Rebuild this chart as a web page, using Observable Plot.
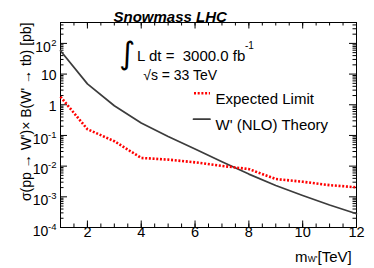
<!DOCTYPE html>
<html>
<head>
<meta charset="utf-8">
<script src="https://cdn.jsdelivr.net/npm/d3@7"></script>
<script src="https://cdn.jsdelivr.net/npm/@observablehq/plot@0.6"></script>
<style>
  html, body { margin: 0; padding: 0; background: #fff; }
  svg { display: block; }
</style>
</head>
<body>
<div id="chart"></div>
<script>
// ---- data ----
const massTeV = [1, 2, 3, 4, 5, 6, 7, 8, 9, 10, 11, 12];
const expectedLimit = [1.83, 0.16, 0.065, 0.0185, 0.0163, 0.0133, 0.0102, 0.0080, 0.0038, 0.0031, 0.0024, 0.00204];
const theoryNLO = [58, 4.8, 0.93, 0.255, 0.093, 0.036, 0.0138, 0.0055, 0.00234, 0.0011, 0.00054, 0.00028];

const xTickLabels = [2, 4, 6, 8, 10, 12];
const yDecades = [1e-4, 1e-3, 1e-2, 1e-1, 1, 10, 100];
const yTickBase = ["10", "10", "10", "10", "1", "10", "10"];
const yTickExp = ["-4", "-3", "-2", "-1", "", "", "2"];

const titleText = "Snowmass LHC";
const lumiText = "L dt =\u00a0 3000.0 fb";
const lumiExp = "-1";
const sqrtsText = "\u221As = 33 TeV";
const legendLabels = ["Expected Limit", "W' (NLO) Theory"];
const yTitle = "\u03C3(pp \u2192 W')\u00D7 B(W' \u2192 tb) [pb]";

// ---- layout ----
const W = 374, H = 268, ML = 60, MR = 18, MT = 22, MB = 41;
const FW = W - ML - MR, FH = H - MT - MB;
const FONT = "'Liberation Sans', Arial, Helvetica, sans-serif";
const yTop = 480;

const rows = massTeV.map((m, i) => ({m, lim: expectedLimit[i], th: theoryNLO[i]}));
const yLabels = yDecades.map((v, i) => ({v, base: yTickBase[i], exp: yTickExp[i]}));

const xMinor = d3.range(1.5, 12, 0.5);
const yMinor = [];
for (const d of yDecades) for (let k = 2; k <= 9; k++) if (d * k <= yTop) yMinor.push(d * k);

// absolute-positioned text helper (baseline in px)
function T(str, x, baseline, fs, opts = {}) {
  return Plot.text([str], {
    text: d => d, frameAnchor: "top-left",
    dx: x - ML, dy: baseline - MT - 0.32 * fs,
    fontSize: fs, textAnchor: "start", fill: "#000", fontFamily: FONT, ...opts
  });
}
const segShape = {draw(ctx, l) { ctx.moveTo(0, 0); ctx.lineTo(0, -l); }};
function seg(x1, x2, y, opts) {
  return Plot.vector([0], {
    frameAnchor: "top-left", dx: x1 - ML, dy: y - MT,
    length: x2 - x1, rotate: 90, anchor: "start", shape: segShape, ...opts
  });
}

const redStyle = {stroke: "#ff0000", strokeWidth: 2.6, strokeDasharray: "2,1.7", strokeLinecap: "butt"};
const grayStyle = {stroke: "#3c3c3c", strokeWidth: 1.7};

const chart = Plot.plot({
  width: W, height: H,
  marginLeft: ML, marginRight: MR, marginTop: MT, marginBottom: MB,
  x: {domain: [1, 12], axis: null},
  y: {type: "log", domain: [1e-4, yTop], axis: null},
  style: {fontFamily: FONT, background: "#fff", overflow: "visible"},
  marks: [
    // ticks (inward, ROOT style)
    Plot.tickX(xMinor, {x: d => d, insetTop: FH - 3.5, stroke: "#000"}),
    Plot.tickX(xTickLabels, {x: d => d, insetTop: FH - 6.5, stroke: "#000"}),
    Plot.tickX(xMinor, {x: d => d, insetBottom: FH - 3.5, stroke: "#000"}),
    Plot.tickX(xTickLabels, {x: d => d, insetBottom: FH - 6.5, stroke: "#000"}),
    Plot.tickY(yMinor, {y: d => d, insetRight: FW - 3.5, stroke: "#000"}),
    Plot.tickY(yDecades, {y: d => d, insetRight: FW - 7, stroke: "#000"}),
    Plot.tickY(yMinor, {y: d => d, insetLeft: FW - 3.5, stroke: "#000"}),
    Plot.tickY(yDecades, {y: d => d, insetLeft: FW - 7, stroke: "#000"}),
    Plot.frame({stroke: "#000", strokeWidth: 1}),

    // data
    Plot.line(rows, {x: "m", y: "th", ...grayStyle}),
    Plot.line(rows, {x: "m", y: "lim", ...redStyle}),

    // x tick labels
    Plot.text(xTickLabels, {x: d => d, text: d => String(d), frameAnchor: "bottom", dy: 9.5, fontSize: 14.5, fill: "#000"}),
    // y tick labels
    Plot.text(yLabels.filter(d => d.exp === ""), {y: "v", text: "base", frameAnchor: "left", dx: -4, dy: 1.5, textAnchor: "end", fontSize: 14, fill: "#000"}),
    Plot.text(yLabels.filter(d => d.exp.length === 1), {y: "v", text: "base", frameAnchor: "left", dx: -9.7, dy: 3.8, textAnchor: "end", fontSize: 14, fill: "#000"}),
    Plot.text(yLabels.filter(d => d.exp.length === 2), {y: "v", text: "base", frameAnchor: "left", dx: -12.2, dy: 3.8, textAnchor: "end", fontSize: 14, fill: "#000"}),
    Plot.text(yLabels.filter(d => d.exp !== ""), {y: "v", text: "exp", frameAnchor: "left", dx: -4, dy: -0.7, textAnchor: "end", fontSize: 9.5, fill: "#000"}),

    // axis titles
    Plot.text([yTitle], {text: d => d, frameAnchor: "top-left", dx: 20.5 - ML, dy: 0, rotate: -90, textAnchor: "end", fontSize: 14, fill: "#000"}),
    T("m", 294.5, 255.5, 15),
    T("W'", 307.2, 258.5, 8.5),
    T("[TeV]", 317, 255.5, 15),

    // title and annotations
    T(titleText, 113, 16, 15, {fontWeight: "bold", fontStyle: "italic"}),
    T("\u222B", 118.5, 51, 31, {fontFamily: "'DejaVu Sans'"}),
    T(lumiText, 136.5, 55, 15),
    T(lumiExp, 244.5, 45, 10),
    T(sqrtsText, 142.7, 74, 14),

    // legend
    seg(193.5, 209.5, 92.7, redStyle),
    T(legendLabels[0], 215, 97.5, 15),
    seg(193, 209.5, 118.7, grayStyle),
    T(legendLabels[1], 215, 124, 15)
  ]
});
document.getElementById("chart").appendChild(chart);
</script>
</body>
</html>
